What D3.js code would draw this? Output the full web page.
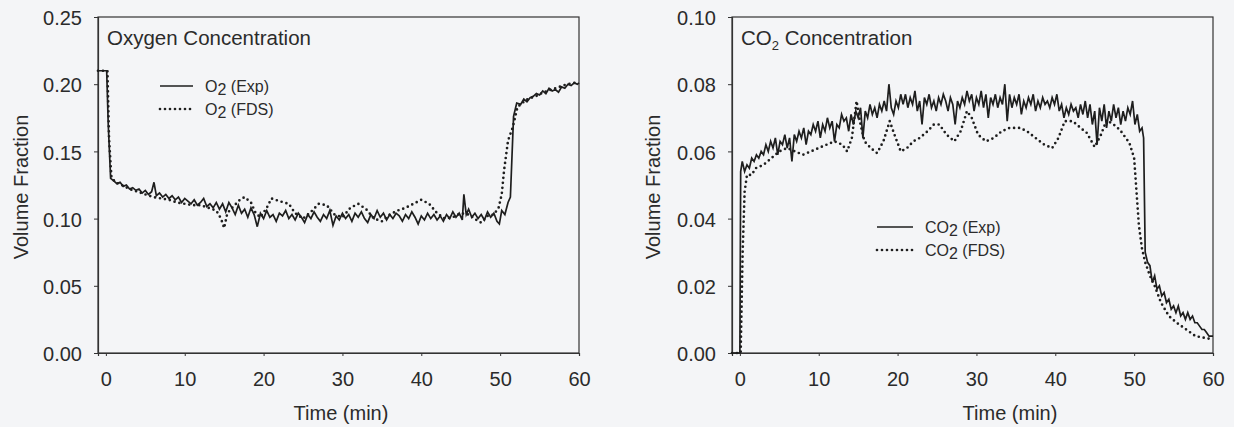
<!DOCTYPE html>
<html>
<head>
<meta charset="utf-8">
<script src="https://cdn.jsdelivr.net/npm/d3@7"></script>
<style>
  html, body { margin: 0; padding: 0; background: #f4f5f7; }
  svg { display: block; font-family: "Liberation Sans", Arial, sans-serif; }
</style>
</head>
<body>
<svg></svg>
<script>
var width = 1234;
var height = 427;

// time ticks shared by both panels
var timeTicks = [0, 10, 20, 30, 40, 50, 60];
var o2Ticks = [0, 0.05, 0.10, 0.15, 0.20, 0.25];
var co2Ticks = [0, 0.02, 0.04, 0.06, 0.08, 0.10];

// [time (min), volume fraction]
var o2Exp = [[-1,0.21],[0.1,0.21],[0.3,0.17],[0.6,0.13],[1,0.128],[1.4,0.126],[1.8,0.127],[2.2,0.124],[2.6,0.125],[3,0.122],[3.4,0.123],[3.8,0.121],[4.2,0.122],[4.6,0.119],[5,0.121],[5.4,0.118],[5.8,0.12],[6.1,0.127],[6.4,0.117],[6.8,0.119],[7.2,0.116],[7.6,0.118],[8,0.115],[8.4,0.117],[8.8,0.114],[9.2,0.116],[9.6,0.112],[10,0.115],[10.4,0.113],[10.8,0.111],[11.2,0.114],[11.6,0.11],[12,0.112],[12.4,0.115],[12.8,0.109],[13.2,0.111],[13.6,0.108],[14,0.112],[14.4,0.107],[14.8,0.111],[15.2,0.105],[15.6,0.112],[16,0.108],[16.4,0.103],[16.8,0.11],[17.2,0.104],[17.6,0.107],[18,0.101],[18.4,0.108],[18.8,0.103],[19.2,0.094],[19.6,0.104],[20,0.1],[20.4,0.106],[20.8,0.101],[21.2,0.103],[21.6,0.098],[22,0.104],[22.4,0.102],[22.8,0.106],[23.2,0.1],[23.6,0.103],[24,0.099],[24.4,0.104],[24.8,0.101],[25.2,0.097],[25.6,0.103],[26,0.1],[26.4,0.105],[26.8,0.101],[27.2,0.098],[27.6,0.103],[28,0.1],[28.4,0.106],[28.8,0.095],[29.2,0.102],[29.6,0.099],[30,0.104],[30.4,0.1],[30.8,0.103],[31.2,0.098],[31.6,0.104],[32,0.101],[32.4,0.105],[32.8,0.1],[33.2,0.097],[33.6,0.103],[34,0.1],[34.4,0.106],[34.8,0.101],[35.2,0.104],[35.6,0.099],[36,0.103],[36.4,0.1],[36.8,0.104],[37.2,0.102],[37.6,0.098],[38,0.103],[38.4,0.1],[38.8,0.105],[39.2,0.101],[39.6,0.096],[40,0.102],[40.4,0.099],[40.8,0.104],[41.2,0.1],[41.6,0.103],[42,0.099],[42.4,0.102],[42.8,0.098],[43.2,0.103],[43.6,0.1],[44,0.105],[44.4,0.101],[44.8,0.104],[45.2,0.099],[45.4,0.118],[45.7,0.103],[46,0.107],[46.4,0.101],[46.8,0.104],[47.2,0.1],[47.6,0.103],[48,0.099],[48.4,0.105],[48.8,0.101],[49.2,0.104],[49.6,0.098],[49.9,0.096],[50.2,0.106],[50.6,0.103],[51,0.112],[51.3,0.116],[51.7,0.176],[52.1,0.186],[52.6,0.185],[53,0.189],[53.4,0.187],[53.8,0.19],[54.2,0.191],[54.6,0.193],[55,0.192],[55.4,0.195],[55.8,0.193],[56.2,0.197],[56.6,0.195],[57,0.196],[57.4,0.194],[57.8,0.198],[58.2,0.197],[58.6,0.2],[59,0.199],[59.4,0.201],[59.8,0.2],[60,0.201]];

var o2Fds = [[-1,0.21],[0.2,0.21],[0.4,0.16],[0.7,0.131],[1.2,0.127],[2,0.125],[3,0.122],[4,0.12],[5,0.118],[6,0.116],[7,0.115],[8,0.114],[9,0.112],[10,0.111],[11,0.11],[12,0.11],[13,0.108],[14,0.106],[14.6,0.1],[15,0.093],[15.4,0.104],[16,0.108],[17,0.114],[17.6,0.116],[18.4,0.112],[19,0.104],[19.6,0.101],[20.4,0.108],[21,0.115],[22,0.113],[23.2,0.111],[24,0.104],[25,0.1],[26,0.105],[27,0.111],[28,0.11],[29,0.103],[30,0.101],[31,0.108],[32,0.111],[33,0.107],[34,0.1],[35,0.098],[36,0.103],[37,0.106],[38,0.108],[39,0.111],[40,0.114],[41,0.111],[42,0.104],[43,0.1],[44,0.101],[45,0.104],[46,0.103],[47,0.099],[47.6,0.097],[48.4,0.102],[49.2,0.103],[49.8,0.108],[50.2,0.118],[50.5,0.136],[51,0.158],[51.6,0.168],[52.2,0.183],[52.8,0.186],[53.5,0.189],[54.5,0.191],[55.5,0.194],[56.5,0.196],[57.5,0.198],[58.5,0.2],[59.5,0.201],[60,0.201]];

var co2Exp = [[-1,0],[0,0],[0.1,0.054],[0.3,0.057],[0.6,0.054],[0.9,0.056],[1.2,0.055],[1.5,0.058],[1.8,0.057],[2.1,0.059],[2.4,0.058],[2.7,0.06],[3,0.059],[3.3,0.062],[3.6,0.06],[3.9,0.063],[4.2,0.061],[4.5,0.064],[4.8,0.059],[5.1,0.063],[5.4,0.062],[5.7,0.065],[6,0.061],[6.3,0.064],[6.6,0.057],[6.9,0.065],[7.2,0.063],[7.5,0.066],[7.8,0.064],[8.1,0.067],[8.4,0.062],[8.7,0.066],[9,0.065],[9.3,0.068],[9.6,0.066],[9.9,0.069],[10.2,0.064],[10.5,0.068],[10.8,0.066],[11.1,0.07],[11.4,0.067],[11.7,0.069],[12,0.063],[12.3,0.068],[12.6,0.067],[12.9,0.071],[13.2,0.069],[13.5,0.07],[13.8,0.066],[14.1,0.071],[14.4,0.068],[14.7,0.072],[15,0.07],[15.3,0.073],[15.6,0.064],[15.9,0.072],[16.2,0.07],[16.5,0.074],[16.8,0.071],[17.1,0.073],[17.4,0.07],[17.7,0.074],[18,0.072],[18.3,0.075],[18.6,0.072],[18.9,0.08],[19.2,0.073],[19.5,0.071],[19.8,0.075],[20.1,0.073],[20.4,0.077],[20.7,0.074],[21,0.077],[21.3,0.073],[21.6,0.076],[21.9,0.074],[22.2,0.078],[22.5,0.072],[22.8,0.075],[23.1,0.068],[23.4,0.076],[23.7,0.074],[24,0.077],[24.3,0.073],[24.6,0.075],[24.9,0.072],[25.2,0.076],[25.5,0.074],[25.8,0.077],[26.1,0.075],[26.4,0.072],[26.7,0.076],[27,0.074],[27.3,0.068],[27.6,0.075],[27.9,0.073],[28.2,0.076],[28.5,0.074],[28.8,0.078],[29.1,0.075],[29.4,0.077],[29.7,0.072],[30,0.076],[30.3,0.074],[30.6,0.078],[30.9,0.073],[31.2,0.077],[31.5,0.07],[31.8,0.076],[32.1,0.074],[32.4,0.077],[32.7,0.073],[33,0.076],[33.3,0.074],[33.6,0.08],[33.9,0.069],[34.2,0.077],[34.5,0.073],[34.8,0.076],[35.1,0.074],[35.4,0.077],[35.7,0.071],[36,0.075],[36.3,0.073],[36.6,0.076],[36.9,0.074],[37.2,0.077],[37.5,0.072],[37.8,0.075],[38.1,0.073],[38.4,0.076],[38.7,0.074],[39,0.075],[39.3,0.073],[39.6,0.076],[39.9,0.074],[40.2,0.077],[40.5,0.072],[40.8,0.074],[41.1,0.07],[41.4,0.073],[41.7,0.071],[42,0.074],[42.3,0.072],[42.6,0.073],[42.9,0.07],[43.2,0.074],[43.5,0.071],[43.8,0.075],[44.1,0.07],[44.4,0.074],[44.7,0.068],[45,0.072],[45.3,0.062],[45.6,0.073],[45.9,0.069],[46.2,0.074],[46.5,0.067],[46.8,0.072],[47.1,0.069],[47.4,0.074],[47.7,0.07],[48,0.073],[48.3,0.068],[48.6,0.072],[48.9,0.069],[49.2,0.073],[49.5,0.071],[49.8,0.075],[50.1,0.068],[50.4,0.071],[50.7,0.066],[51,0.067],[51.2,0.064],[51.4,0.03],[51.7,0.027],[52,0.026],[52.3,0.021],[52.6,0.023],[52.9,0.019],[53.2,0.02],[53.5,0.017],[53.8,0.018],[54.1,0.015],[54.4,0.016],[54.7,0.013],[55,0.014],[55.3,0.012],[55.6,0.014],[55.9,0.011],[56.2,0.012],[56.5,0.01],[56.8,0.012],[57.1,0.01],[57.4,0.011],[57.7,0.009],[58,0.009],[58.3,0.008],[58.6,0.007],[58.9,0.007],[59.2,0.006],[59.5,0.005],[59.8,0.005],[60,0.005]];

var co2Fds = [[-1,0],[0.1,0],[0.35,0.03],[0.6,0.048],[0.9,0.053],[1.5,0.053],[2,0.055],[3,0.056],[4,0.058],[5,0.06],[6,0.061],[7,0.06],[8,0.059],[9,0.06],[10,0.061],[11,0.062],[12,0.063],[13,0.062],[13.6,0.06],[14.2,0.064],[14.8,0.075],[15.3,0.068],[15.8,0.063],[16.6,0.061],[17.4,0.0595],[18.2,0.063],[19,0.069],[19.6,0.065],[20.4,0.06],[21.2,0.061],[22,0.063],[22.8,0.064],[23.8,0.066],[24.6,0.068],[25.3,0.068],[26.2,0.065],[27.2,0.063],[28,0.066],[28.8,0.072],[29.4,0.07],[30.2,0.065],[31.2,0.063],[32.2,0.064],[33.2,0.066],[34.2,0.067],[35.5,0.067],[36.4,0.066],[37.5,0.064],[38.6,0.062],[39.6,0.061],[40.4,0.064],[41.2,0.069],[42.2,0.069],[43.2,0.067],[44,0.0655],[45,0.0613],[45.8,0.065],[46.5,0.0693],[47.4,0.068],[48.2,0.0664],[49.4,0.0625],[50,0.058],[50.3,0.048],[50.6,0.038],[51,0.031],[51.4,0.027],[52,0.023],[52.6,0.02],[53.4,0.015],[54.4,0.011],[55.4,0.009],[56.6,0.007],[57.8,0.005],[59,0.0045],[60,0.004]];

var ink = "#1e1e1e";
var textInk = "#2b2b2b";

var svg = d3.select('svg')
    .attr('width', width)
    .attr('height', height)
    .attr('viewBox', '0 0 ' + width + ' ' + height);

svg.append('rect').attr('width', width).attr('height', height).attr('fill', '#f4f5f7');

drawPanel({
    left: 98, right: 579, top: 17, bottom: 353,
    yMax: 0.25, yTicks: o2Ticks,
    exp: o2Exp, fds: o2Fds,
    gas: ['O', '2'],
    title: 'Oxygen Concentration',
    legendX: 160, legendY: 86, legendLen: 33,
    xTitleX: 341, yTitleX: 28
});

drawPanel({
    left: 732, right: 1213, top: 17, bottom: 353,
    yMax: 0.10, yTicks: co2Ticks,
    exp: co2Exp, fds: co2Fds,
    gas: ['CO', '2'],
    title: null,
    legendX: 877, legendY: 227, legendLen: 36,
    xTitleX: 1010, yTitleX: 660
});

function drawPanel(p) {
    var x = d3.scaleLinear().domain([-1, 60]).range([p.left, p.right]);
    var y = d3.scaleLinear().domain([0, p.yMax]).range([p.bottom, p.top]);

    var g = svg.append('g');

    // frame
    g.append('rect')
        .attr('x', p.left).attr('y', p.top)
        .attr('width', p.right - p.left).attr('height', p.bottom - p.top)
        .attr('fill', 'none').attr('stroke', '#333').attr('stroke-width', 1.2);

    var xAxis = g.append('g')
        .attr('transform', 'translate(0,' + p.bottom + ')')
        .call(d3.axisBottom(x).tickValues(timeTicks).tickSize(3).tickPadding(16).tickFormat(d3.format('d')));
    var yAxis = g.append('g')
        .attr('transform', 'translate(' + p.left + ',0)')
        .call(d3.axisLeft(y).tickValues(p.yTicks).tickSize(4).tickPadding(12).tickFormat(d3.format('.2f')));

    [xAxis, yAxis].forEach(function (a) {
        a.select('.domain').attr('stroke', '#333').attr('stroke-width', 1.2);
        a.selectAll('.tick line').attr('stroke', '#333').attr('stroke-width', 1);
        a.selectAll('.tick text')
            .attr('fill', textInk)
            .style('font-size', '20px')
            .style('font-family', '"Liberation Sans", Arial, sans-serif');
    });
    yAxis.selectAll('.tick text').attr('dy', '0.38em');

    var line = d3.line()
        .x(function (d) { return x(d[0]); })
        .y(function (d) { return y(d[1]); });

    g.append('path')
        .datum(p.fds)
        .attr('d', line)
        .attr('fill', 'none')
        .attr('stroke', ink)
        .attr('stroke-width', 2.7)
        .attr('stroke-linecap', 'round')
        .attr('stroke-dasharray', '0,5');

    g.append('path')
        .datum(p.exp)
        .attr('d', line)
        .attr('fill', 'none')
        .attr('stroke', ink)
        .attr('stroke-width', 1.7)
        .attr('stroke-linejoin', 'miter');

    // panel title
    var t = g.append('text')
        .attr('x', p.left + 9)
        .attr('y', p.top + 28)
        .attr('fill', textInk)
        .style('font-size', '20.5px');
    if (p.title) {
        t.text(p.title);
    } else {
        t.append('tspan').text('CO');
        t.append('tspan').attr('dy', 5).style('font-size', '13px').text('2');
        t.append('tspan').attr('dy', -5).text(' Concentration');
    }

    // legend
    var rows = [{ label: ' (Exp)', dash: null }, { label: ' (FDS)', dash: '0,5' }];
    rows.forEach(function (r, i) {
        var ly = p.legendY + i * 23;
        g.append('line')
            .attr('x1', p.legendX).attr('x2', p.legendX + p.legendLen)
            .attr('y1', ly).attr('y2', ly)
            .attr('stroke', ink)
            .attr('stroke-width', r.dash ? 2.7 : 1.7)
            .attr('stroke-linecap', r.dash ? 'round' : 'butt')
            .attr('stroke-dasharray', r.dash);
        var lt = g.append('text')
            .attr('x', p.legendX + p.legendLen + 12)
            .attr('y', ly + 6)
            .attr('fill', textInk)
            .style('font-size', '16px');
        lt.append('tspan').text(p.gas[0]);
        lt.append('tspan').attr('dy', 3).text(p.gas[1]);
        lt.append('tspan').attr('dy', -3).text(r.label);
    });

    // axis titles
    g.append('text')
        .attr('x', p.xTitleX)
        .attr('y', 420)
        .attr('text-anchor', 'middle')
        .attr('fill', textInk)
        .style('font-size', '20px')
        .text('Time (min)');

    g.append('text')
        .attr('transform', 'translate(' + p.yTitleX + ',' + ((p.top + p.bottom) / 2 + 2) + ') rotate(-90)')
        .attr('text-anchor', 'middle')
        .attr('fill', textInk)
        .style('font-size', '20px')
        .text('Volume Fraction');
}
</script>
</body>
</html>
